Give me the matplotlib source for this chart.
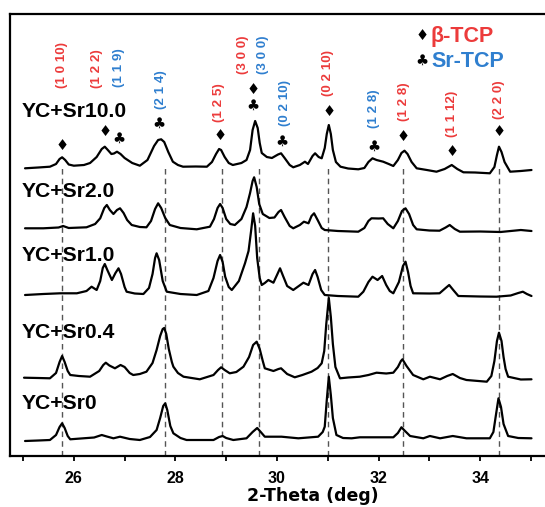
import matplotlib
matplotlib.use("Agg")
import matplotlib.pyplot as plt
from matplotlib.ticker import MultipleLocator

# ---------------- data ----------------
samples = ["YC+Sr10.0", "YC+Sr2.0", "YC+Sr1.0", "YC+Sr0.4", "YC+Sr0"]
offsets = [286, 225, 160, 77, 16]
label_y = [339, 259, 195, 118, 47]

tt_sr10 = [25.04, 25.3, 25.53, 25.65, 25.72, 25.77, 25.83, 25.9, 26.0, 26.2, 26.32, 26.45, 26.55, 26.61,
           26.67, 26.74, 26.79, 26.85, 26.92, 27.0, 27.15, 27.3, 27.45, 27.58, 27.66, 27.72, 27.78,
           27.86, 27.95, 28.05, 28.15, 28.4, 28.62, 28.72, 28.8, 28.86, 28.9, 28.97, 29.05, 29.13,
           29.3, 29.4, 29.47, 29.52, 29.57, 29.62, 29.66, 29.7, 29.8, 29.9, 30.02, 30.08, 30.15,
           30.25, 30.32, 30.45, 30.55, 30.61, 30.7, 30.75, 30.82, 30.88, 30.94, 30.98, 31.02, 31.06,
           31.1, 31.16, 31.25, 31.4, 31.6, 31.72, 31.8, 31.88, 31.96, 32.09, 32.2, 32.29, 32.38,
           32.45, 32.51, 32.57, 32.65, 32.75, 32.95, 33.14, 33.3, 33.44, 33.55, 33.67, 33.9, 34.19,
           34.28, 34.33, 34.37, 34.42, 34.48, 34.59, 34.8, 35.01]
i_sr10 = [1.7, 2.5, 3.3, 6, 11, 12.7, 10, 5.5, 4.3, 5, 7, 13, 21, 23.3,
          20, 16, 16.5, 18.3, 16, 12, 7, 4.3, 10, 24, 30, 30.7, 28,
          18, 8.3, 5, 3.3, 3.5, 3.3, 8, 16, 21, 20, 13, 7, 5,
          7, 10, 20, 40, 49, 42, 27, 17, 13, 12, 15.5, 16.7, 12,
          5, 2.7, 5, 8.3, 6, 14, 16.7, 13, 11.7, 22, 36, 45, 36,
          20, 8, 3.3, 1.5, 0.7, 2, 8, 11.7, 10, 8.3, 6, 4, 10,
          17, 19.3, 16, 8, 1.7, 0, -1.7, 1, 5, 1, -2.3, -2.5, -3.3,
          3, 15, 23.3, 18, 8, -1.7, -1, 0]

tt_sr2 = [25.04, 25.4, 25.7, 25.79, 25.9, 26.25, 26.42, 26.52, 26.6, 26.65, 26.71, 26.78, 26.85, 26.91,
          26.98, 27.05, 27.14, 27.3, 27.43, 27.52, 27.6, 27.66, 27.72, 27.8, 27.89, 28.1, 28.42,
          28.68, 28.76, 28.83, 28.88, 28.93, 29.0, 29.08, 29.17, 29.3, 29.4, 29.47, 29.52, 29.55,
          29.6, 29.65, 29.72, 29.85, 29.95, 30.03, 30.08, 30.15, 30.25, 30.32, 30.45, 30.53, 30.62,
          30.68, 30.73, 30.8, 30.88, 30.94, 31.2, 31.6, 31.72, 31.8, 31.86, 32.0, 32.09, 32.18,
          32.29, 32.38, 32.46, 32.53, 32.6, 32.68, 32.75, 33.0, 33.2, 33.32, 33.4, 33.5, 33.6,
          34.0, 34.4, 34.6, 34.8, 35.01]
i_sr2 = [2.7, 2.7, 3.5, 5, 3, 3.7, 7, 12.7, 23, 26, 21, 17, 21, 22.7,
         18, 11, 6, 4, 3.7, 10, 22, 27.7, 23, 13, 6, 3, 1.7,
         4.3, 12, 23, 27, 23, 12, 7, 6, 12, 24, 38, 50, 53.7,
         44, 27, 17, 13, 13.5, 19, 21, 14, 5, 2.7, 6, 9.3, 7.7,
         15, 17.7, 11, 3, 1, 0, -0.7, 3, 10, 12.7, 12.5, 12.7, 7,
         2.7, 10, 20, 22.7, 17, 6, 1.7, 0.5, 0.3, 3.5, 6, 2, -0.7,
         -0.5, -1, 0, 1, 0]

tt_sr1 = [25.04, 25.4, 25.73, 26.06, 26.25, 26.35, 26.45, 26.52, 26.57, 26.61, 26.66, 26.75, 26.82,
          26.88, 26.93, 27.0, 27.04, 27.2, 27.37, 27.48, 27.55, 27.6, 27.63, 27.68, 27.75, 27.83,
          28.1, 28.42, 28.65, 28.75, 28.83, 28.88, 28.93, 28.98, 29.05, 29.11, 29.25, 29.37, 29.44,
          29.49, 29.53, 29.57, 29.61, 29.66, 29.7, 29.76, 29.83, 29.93, 30.0, 30.06, 30.12, 30.2,
          30.32, 30.43, 30.52, 30.62, 30.7, 30.75, 30.8, 30.87, 30.94, 31.2, 31.6, 31.7, 31.8,
          31.88, 31.98, 32.07, 32.15, 32.22, 32.29, 32.4, 32.48, 32.53, 32.58, 32.63, 32.68, 33.0,
          33.2, 33.32, 33.39, 33.47, 33.57, 34.0, 34.32, 34.6, 34.75, 34.84, 34.92, 35.01]
i_sr1 = [1, 2, 2.7, 2.7, 5, 9.3, 6, 15, 28, 32, 26, 16, 23,
         27.7, 22, 9, 4.3, 2.5, 2, 8, 22, 38, 42.7, 36, 15, 4.3,
         2, 1, 5, 18, 35, 41, 34, 19.3, 9, 6, 15, 32.7, 45,
         65, 82.7, 70, 38, 18, 11, 13, 16, 13.3, 21, 27.7, 20, 10,
         6, 10, 13.3, 11, 22, 26, 19, 6, 1, 0, -0.7, 4.3, 14,
         19.3, 16, 20, 11, 5, 2.7, 14, 30, 34.3, 24, 10, 2.7, 2.5,
         2.7, 8, 11, 6, 0, -0.5, -0.7, 0.5, 3, 4.3, 2, 0]

tt_sr04 = [25.02, 25.3, 25.53, 25.65, 25.72, 25.77, 25.82, 25.88, 25.93, 26.1, 26.32, 26.5, 26.58,
           26.63, 26.7, 26.81, 26.92, 27.0, 27.1, 27.17, 27.3, 27.43, 27.55, 27.63, 27.7, 27.75,
           27.78, 27.82, 27.87, 27.93, 27.96, 28.05, 28.16, 28.48, 28.75, 28.84, 28.9, 28.97, 29.07,
           29.2, 29.34, 29.45, 29.53, 29.6, 29.66, 29.72, 29.76, 29.93, 30.03, 30.08, 30.2, 30.35,
           30.5, 30.68, 30.8, 30.88, 30.93, 30.97, 31.02, 31.06, 31.1, 31.15, 31.24, 31.4, 31.63,
           31.8, 31.96, 32.15, 32.29, 32.38, 32.44, 32.47, 32.55, 32.68, 32.88, 33.01, 33.21, 33.35,
           33.46, 33.6, 33.73, 34.13, 34.22, 34.28, 34.33, 34.37, 34.42, 34.46, 34.5, 34.55, 34.8,
           35.01]
i_sr04 = [1.3, 1, 0.7, 6, 17, 23, 17, 8, 4, 3, 2.3, 8, 14,
          16.3, 13.5, 10.7, 14, 12, 6, 4, 5, 7.3, 16, 29, 43, 50,
          51, 45, 30, 17, 12.3, 6, 2.3, -0.3, 4, 9, 11.7, 9, 5.7,
          7, 12.3, 22, 34, 37.3, 30, 18, 10.7, 8, 10, 10.7, 5, 1.7,
          4, 7.3, 11, 15.7, 28, 55, 81, 62, 35, 12, 0.7, 1.5, 2.3,
          4, 6.3, 5.5, 6.3, 12, 18, 19.7, 13, 4, -0.3, 2.3, -0.3, 3,
          5, 1, -1, -2.7, 3, 18, 38, 46.3, 38, 22, 10, 2.3, -0.5,
          -0.3]

tt_sr0 = [25.04, 25.3, 25.53, 25.65, 25.72, 25.77, 25.82, 25.88, 25.93, 26.19, 26.4, 26.55, 26.65,
          26.78, 26.91, 27.1, 27.3, 27.5, 27.63, 27.7, 27.76, 27.8, 27.84, 27.9, 27.96, 28.1, 28.22,
          28.75, 28.86, 28.93, 29.0, 29.14, 29.4, 29.52, 29.61, 29.68, 29.76, 30.09, 30.42, 30.81,
          30.9, 30.94, 30.98, 31.02, 31.06, 31.1, 31.17, 31.3, 31.47, 31.63, 32.29, 32.38, 32.45,
          32.52, 32.62, 32.88, 33.01, 33.21, 33.46, 33.73, 34.19, 34.26, 34.31, 34.36, 34.41, 34.46,
          34.55, 34.75, 35.01]
i_sr0 = [-1, -0.5, 0, 5, 13, 16.7, 12, 4, 0.7, 1.7, 2.5, 5, 3.5,
         1.7, 3.3, 1, 0, 3, 10, 22, 34, 36.7, 30, 14, 6.7, 2, 0,
         0, 3, 4, 2, 0, 1.7, 8, 12, 8, 3.3, 3.3, 1.7, 3.3,
         8, 13.3, 40, 63.3, 45, 22, 5, 2, 1.7, 2.7, 2.7, 7, 12.7,
         9, 4, 1.7, 4, 1.7, 4, 1.7, 1.7, 8, 25, 41.7, 33, 16,
         4, 2, 1.7]

traces_tt = [tt_sr10, tt_sr2, tt_sr1, tt_sr04, tt_sr0]
traces_i = [i_sr10, i_sr2, i_sr1, i_sr04, i_sr0]

ref_lines = [25.77, 27.8, 28.92, 29.64, 31.0, 32.48, 34.37]
ref_top = 291

hkl_tt = [25.77, 26.45, 28.86, 29.34, 31.01, 32.5, 33.44, 34.37,
          26.89, 27.72, 29.73, 30.16, 31.9]
hkl_text = ["(1 0 10)", "(1 2 2)", "(1 2 5)", "(3 0 0)", "(0 2 10)", "(1 2 8)", "(1 1 12)", "(2 2 0)",
            "(1 1 9)", "(2 1 4)", "(3 0 0)", "(0 2 10)", "(1 2 8)"]
hkl_phase = ["b", "b", "b", "b", "b", "b", "b", "b", "s", "s", "s", "s", "s"]
hkl_y = [391, 387.5, 353.5, 401, 382.5, 354.5, 342.5, 356,
         388.5, 366.5, 401, 353, 347.5]

dia_tt = [25.77, 26.61, 28.88, 29.53, 31.03, 32.49, 33.44, 34.37]
dia_y = [311, 324.3, 320, 366.7, 344.3, 319.3, 304.3, 324.3]
club_tt = [26.89, 27.67, 29.53, 30.09, 31.9]
club_y = [317.7, 332.7, 351, 314.3, 309.3]

RED = "#ec3b3b"
BLUE = "#2f7fcf"
phase_color = {"b": RED, "s": BLUE}

# ---------------- figure ----------------
plt.rcParams["font.family"] = ["Liberation Sans", "DejaVu Sans"]
fig = plt.figure(figsize=(5.45, 5.07), dpi=100)
ax = fig.add_axes([10 / 545, 51 / 507, 1 - 10 / 545, 442 / 507])
ax.set_xlim(24.744, 35.276)
ax.set_ylim(0, 442)

for x in ref_lines:
    ax.plot([x, x], [0, ref_top], color="#555555", lw=1.0, dashes=(4, 3), zorder=1)

for tt, inten, off in zip(traces_tt, traces_i, offsets):
    ax.plot(tt, [v + off for v in inten], color="black", lw=1.6, zorder=3,
            solid_joinstyle="round", solid_capstyle="round")

for name, ly in zip(samples, label_y):
    ax.text(24.98, ly, name, fontsize=15.2, fontweight="bold", ha="left", va="baseline",
            zorder=4)

for x, t, ph, y in zip(hkl_tt, hkl_text, hkl_phase, hkl_y):
    ax.text(x, y, t, rotation=90, fontsize=9.6, fontweight="bold", color=phase_color[ph],
            ha="center", va="center", zorder=4)

for x, y in zip(dia_tt, dia_y):
    ax.text(x, y, "\u2666", fontsize=10.5, family="DejaVu Sans", ha="center", va="center", zorder=4)
for x, y in zip(club_tt, club_y):
    ax.text(x, y, "\u2663", fontsize=10.5, family="DejaVu Sans", ha="center", va="center", zorder=4)

# legend
fig.text(421.7 / 545, 1 - 35 / 507, "\u2666", fontsize=10.5, family="DejaVu Sans",
         ha="center", va="center")
fig.text(421.7 / 545, 1 - 60 / 507, "\u2663", fontsize=10.5, family="DejaVu Sans",
         ha="center", va="center")
fig.text(431 / 545, 1 - 41.7 / 507, "\u03b2-TCP", fontsize=15.5, fontweight="bold", color=RED,
         ha="left", va="baseline")
fig.text(431 / 545, 1 - 66.7 / 507, "Sr-TCP", fontsize=15.5, fontweight="bold", color=BLUE,
         ha="left", va="baseline")

# axes styling
ax.spines["right"].set_visible(False)
for s in ["top", "left", "bottom"]:
    ax.spines[s].set_linewidth(1.6)
ax.set_yticks([])
ax.xaxis.set_major_locator(MultipleLocator(2))
ax.xaxis.set_minor_locator(MultipleLocator(1))
ax.set_xticks([26, 28, 30, 32, 34])
ax.tick_params(axis="x", which="both", direction="out", length=3.5, width=1.3, pad=7)
for lab in ax.get_xticklabels():
    lab.set_fontweight("bold")
    lab.set_fontsize(11.5)
ax.set_xlabel("2-Theta (deg)", fontsize=12.5, fontweight="bold", family="DejaVu Sans",
              labelpad=1)
ax.xaxis.label.set_x((312.5 - 10) / 535)

fig.savefig("out.png", dpi=100)
